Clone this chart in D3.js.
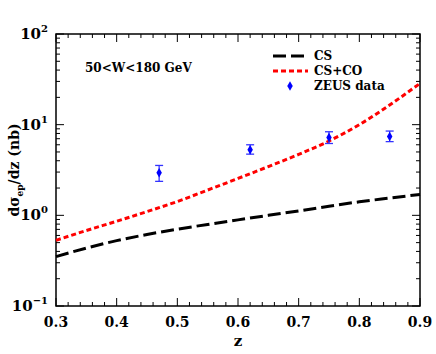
<!DOCTYPE html>
<html>
<head>
<meta charset="utf-8">
<script src="https://cdn.jsdelivr.net/npm/d3@7"></script>
<style>
  body { margin: 0; background: #fff; }
  text { font-family: "DejaVu Serif", serif; font-weight: bold; fill: #000; }
</style>
</head>
<body>
<script>
    'use strict';

    // curves
    var zGrid = [0.30, 0.35, 0.40, 0.45, 0.50, 0.55, 0.60, 0.65, 0.70, 0.75, 0.80, 0.85, 0.90];
    var csValues = [0.35, 0.435, 0.526, 0.615, 0.703, 0.794, 0.891, 1.0, 1.12, 1.26, 1.41, 1.55, 1.70];
    var csCoValues = [0.53, 0.68, 0.86, 1.10, 1.42, 1.90, 2.55, 3.45, 4.7, 6.6, 10.0, 16.5, 28.5];

    // ZEUS points
    var zeusZ = [0.47, 0.62, 0.75, 0.85];
    var zeusY = [2.95, 5.3, 7.2, 7.4];
    var zeusLo = [2.37, 4.73, 6.2, 6.5];
    var zeusHi = [3.55, 6.0, 8.35, 8.5];

    var xTicks = [0.3, 0.4, 0.5, 0.6, 0.7, 0.8, 0.9];
    var yDecades = [-1, 0, 1, 2];

    var width = 436;
    var height = 354;
    var margin = { left: 56, right: 16, top: 34, bottom: 48 };

    var svg = d3.select('body')
        .append('svg')
        .attr('width', width)
        .attr('height', height)
        ;

    var x = d3.scaleLinear()
        .domain([0.3, 0.9])
        .range([margin.left, width - margin.right])
        ;

    var y = d3.scaleLog()
        .domain([0.1, 100])
        .range([height - margin.bottom, margin.top])
        ;

    var x0 = x.range()[0], x1 = x.range()[1];
    var y0 = y.range()[0], y1 = y.range()[1];

    // ticks: major every decade / 0.1, minor in between, all pointing inward
    var minorY = [];
    yDecades.slice(0, -1).forEach(function (e) {
        for (var k = 2; k <= 9; k++) minorY.push(k * Math.pow(10, e));
    });
    var minorX = d3.range(0.32, 0.9, 0.02).filter(function (v) {
        return Math.abs(v * 10 - Math.round(v * 10)) > 1e-6;
    });

    var ticks = svg.append('g').attr('stroke', '#000').attr('stroke-width', 1);

    function yTick(v, len) {
        ticks.append('line').attr('x1', x0).attr('x2', x0 + len)
            .attr('y1', y(v)).attr('y2', y(v));
        ticks.append('line').attr('x1', x1).attr('x2', x1 - len)
            .attr('y1', y(v)).attr('y2', y(v));
    }
    function xTick(v, len) {
        ticks.append('line').attr('x1', x(v)).attr('x2', x(v))
            .attr('y1', y0).attr('y2', y0 - len);
        ticks.append('line').attr('x1', x(v)).attr('x2', x(v))
            .attr('y1', y1).attr('y2', y1 + len);
    }
    yDecades.forEach(function (e) { yTick(Math.pow(10, e), 8); });
    minorY.forEach(function (v) { yTick(v, 4); });
    xTicks.forEach(function (v) { xTick(v, 8); });
    minorX.forEach(function (v) { xTick(v, 4); });

    // frame
    svg.append('rect')
        .attr('x', x0).attr('y', y1)
        .attr('width', x1 - x0).attr('height', y0 - y1)
        .attr('fill', 'none')
        .attr('stroke', '#000')
        .attr('stroke-width', 1.5)
        ;

    // tick labels
    svg.selectAll('text.xl')
        .data(xTicks)
        .enter()
        .append('text')
        .attr('class', 'xl')
        .attr('x', x)
        .attr('y', y0 + 21)
        .attr('text-anchor', 'middle')
        .style('font-size', '14px')
        .text(function (d) { return d.toFixed(1); })
        ;

    var yl = svg.selectAll('text.yl')
        .data(yDecades)
        .enter()
        .append('text')
        .attr('class', 'yl')
        .attr('x', x0 - 8)
        .attr('y', function (d) { return y(Math.pow(10, d)) + 5; })
        .attr('text-anchor', 'end')
        .style('font-size', '15px')
        ;
    yl.append('tspan').text('10');
    yl.append('tspan')
        .attr('dy', -7)
        .style('font-size', '10px')
        .text(function (d) { return d < 0 ? '\u2212' + (-d) : String(d); })
        ;

    // axis titles
    svg.append('text')
        .attr('x', (x0 + x1) / 2)
        .attr('y', height - 8)
        .attr('text-anchor', 'middle')
        .style('font-size', '15px')
        .text('z')
        ;

    var yt = svg.append('text')
        .attr('transform', 'translate(19,' + ((y0 + y1) / 2) + ') rotate(-90)')
        .attr('text-anchor', 'middle')
        .style('font-size', '14px')
        ;
    yt.append('tspan').text('d\u03c3');
    yt.append('tspan').attr('dy', 4).style('font-size', '9px').text('ep');
    yt.append('tspan').attr('dy', -4).text('/dz (nb)');

    // curves
    var line = d3.line()
        .x(function (d) { return x(d[0]); })
        .y(function (d) { return y(d[1]); })
        .curve(d3.curveMonotoneX)
        ;

    svg.append('path')
        .datum(d3.zip(zGrid, csValues))
        .attr('d', line)
        .attr('fill', 'none')
        .attr('stroke', '#000')
        .attr('stroke-width', 3)
        .attr('stroke-dasharray', '13,5')
        ;

    svg.append('path')
        .datum(d3.zip(zGrid, csCoValues))
        .attr('d', line)
        .attr('fill', 'none')
        .attr('stroke', '#ff0000')
        .attr('stroke-width', 3)
        .attr('stroke-dasharray', '5,3')
        ;

    // ZEUS data with error bars
    var pts = svg.selectAll('g.pt')
        .data(d3.range(zeusZ.length))
        .enter()
        .append('g')
        .attr('class', 'pt')
        .attr('stroke', '#3333ff')
        .attr('stroke-width', 1.3)
        ;
    pts.append('line')
        .attr('x1', function (i) { return x(zeusZ[i]); })
        .attr('x2', function (i) { return x(zeusZ[i]); })
        .attr('y1', function (i) { return y(zeusLo[i]); })
        .attr('y2', function (i) { return y(zeusHi[i]); })
        ;
    [zeusLo, zeusHi].forEach(function (arr) {
        pts.append('line')
            .attr('x1', function (i) { return x(zeusZ[i]) - 4; })
            .attr('x2', function (i) { return x(zeusZ[i]) + 4; })
            .attr('y1', function (i) { return y(arr[i]); })
            .attr('y2', function (i) { return y(arr[i]); })
            ;
    });
    var diamond = d3.symbol().type(d3.symbolDiamond).size(26);
    pts.append('path')
        .attr('d', diamond)
        .attr('transform', function (i) {
            return 'translate(' + x(zeusZ[i]) + ',' + y(zeusY[i]) + ')';
        })
        .attr('fill', '#0000ff')
        .attr('stroke', 'none')
        ;

    // annotation
    svg.append('text')
        .attr('x', 85)
        .attr('y', 72)
        .style('font-size', '12px')
        .text('50<W<180 GeV')
        ;

    // legend
    var legend = svg.append('g');
    var legendRows = [
        { label: 'CS', color: '#000', dash: '13,5' },
        { label: 'CS+CO', color: '#ff0000', dash: '5,3' },
        { label: 'ZEUS data', color: '#0000ff', dash: null }
    ];
    legendRows.forEach(function (r, i) {
        var ly = 56 + i * 15;
        if (r.dash) {
            legend.append('line')
                .attr('x1', 273).attr('x2', 308)
                .attr('y1', ly).attr('y2', ly)
                .attr('stroke', r.color)
                .attr('stroke-width', 3)
                .attr('stroke-dasharray', r.dash)
                ;
        } else {
            legend.append('path')
                .attr('d', diamond)
                .attr('transform', 'translate(290,' + ly + ')')
                .attr('fill', r.color)
                ;
        }
        legend.append('text')
            .attr('x', 314)
            .attr('y', ly + 4)
            .style('font-size', '12px')
            .text(r.label)
            ;
    });
</script>
</body>
</html>
